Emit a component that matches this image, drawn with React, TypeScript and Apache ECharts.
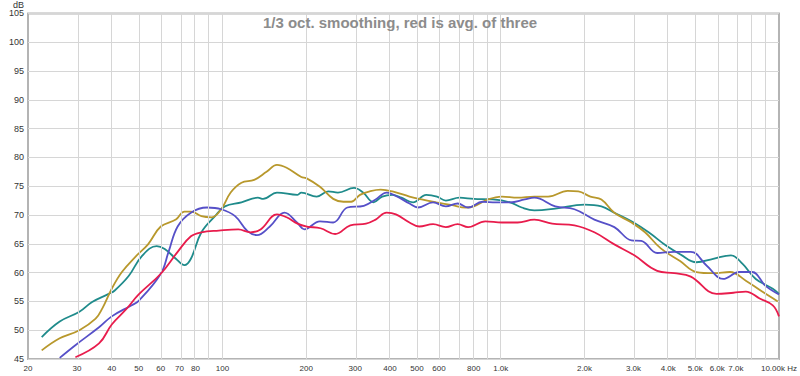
import React, { useEffect, useRef } from "react";
import * as echarts from "echarts";

// ---- data (frequency in Hz, level in dB) ----
const tealFreq = [22.4, 26, 30.6, 34, 39, 41, 46, 51.4, 58, 62, 68, 73, 77, 84, 94, 102, 117, 134, 140, 157, 186, 192, 218, 240, 260, 297, 320, 349, 375, 408, 440, 484, 540, 590, 635, 710, 800, 935, 1080, 1190, 1320, 1570, 2000, 2300, 2560, 2950, 3400, 3950, 4410, 5050, 5800, 6720, 7400, 8250, 9500, 10000];
const tealDb = [48.8, 51.5, 53.2, 54.9, 56.3, 56.9, 59.4, 62.9, 64.6, 64.1, 62.4, 61.3, 62.4, 67.0, 69.8, 71.5, 72.2, 73.0, 72.8, 73.9, 73.5, 73.9, 73.2, 74.1, 73.9, 74.7, 73.9, 72.2, 73.2, 73.5, 73.0, 72.2, 73.5, 73.2, 72.5, 73.0, 72.8, 72.7, 72.2, 71.3, 70.8, 71.1, 71.8, 71.5, 70.4, 68.9, 67.0, 64.6, 63.2, 61.8, 62.4, 63.0, 61.5, 58.9, 57.2, 56.3];

const goldFreq = [22.4, 26, 30.6, 35, 37, 40, 43.5, 49, 54, 60, 68, 73, 77, 84, 91.5, 99, 107, 117, 130, 144, 157, 170, 192, 200, 224, 250, 272, 290, 312, 338, 370, 408, 470, 520, 587, 670, 750, 800, 900, 1010, 1150, 1320, 1480, 1740, 1900, 2100, 2300, 2560, 2950, 3300, 3760, 4410, 5050, 5800, 6670, 7600, 8700, 9900];
const goldDb = [46.5, 48.6, 50.0, 52.0, 53.8, 57.2, 60.1, 62.9, 64.9, 68.0, 69.2, 70.6, 70.6, 69.8, 69.6, 71.0, 73.9, 75.6, 76.1, 77.5, 78.7, 78.2, 76.6, 76.4, 74.9, 72.8, 72.3, 72.3, 73.5, 74.1, 74.4, 74.1, 73.2, 72.7, 72.2, 71.7, 71.3, 71.5, 72.7, 73.2, 73.0, 73.2, 73.2, 74.2, 74.1, 73.2, 72.7, 70.4, 68.7, 67.0, 64.2, 62.0, 60.1, 59.9, 60.1, 58.6, 56.7, 55.0];

const blueFreq = [26, 29.6, 36, 40, 47, 50, 60, 64, 69, 77, 88, 99, 111, 123, 133, 148, 167, 186, 197, 224, 250, 281, 322, 355, 389, 420, 470, 504, 571, 635, 700, 763, 860, 960, 1080, 1220, 1320, 1570, 1840, 2170, 2560, 2950, 3200, 3650, 4200, 4820, 5500, 6300, 7200, 8000, 8950, 10000];
const blueDb = [45.2, 47.4, 50.5, 52.4, 54.3, 55.1, 59.8, 63.6, 68.0, 70.4, 71.3, 71.0, 69.8, 67.2, 66.5, 68.0, 70.4, 68.6, 67.5, 68.9, 68.7, 71.3, 71.6, 72.7, 73.9, 73.3, 72.0, 71.3, 72.2, 71.5, 72.0, 71.3, 72.3, 72.2, 72.2, 72.7, 73.0, 71.5, 71.0, 69.2, 67.9, 65.6, 65.5, 63.4, 63.6, 63.6, 61.2, 58.9, 60.1, 60.1, 57.7, 56.2];

const redFreq = [29.6, 36, 40, 45, 50, 60, 69, 77, 84, 97, 114, 126, 137, 157, 170, 186, 201, 225, 254, 288, 328, 355, 389, 420, 470, 509, 571, 635, 700, 763, 880, 1010, 1150, 1320, 1530, 1840, 2170, 2560, 3020, 3650, 4200, 4820, 5960, 6860, 7600, 8520, 9500, 10000];
const redDb = [45.3, 47.7, 51.0, 53.6, 56.2, 59.8, 63.6, 66.3, 67.0, 67.3, 67.5, 67.0, 67.5, 70.1, 69.6, 68.5, 68.0, 67.7, 66.7, 68.2, 68.5, 69.2, 70.4, 70.1, 68.7, 68.0, 68.4, 67.9, 68.4, 67.9, 68.9, 68.7, 68.7, 69.2, 68.5, 68.2, 67.0, 64.9, 63.0, 60.3, 59.9, 59.3, 56.3, 56.5, 56.7, 55.5, 54.3, 52.4];

const gridFreqs = [30, 40, 50, 60, 70, 80, 90, 100, 200, 300, 400, 500, 600, 700, 800, 900, 1000, 2000, 3000, 4000, 5000, 6000, 7000, 8000, 9000];
const tickFreqs = [20, 30, 40, 50, 60, 70, 80, 100, 200, 300, 400, 500, 600, 800, 1000, 2000, 3000, 4000, 5000, 6000, 7000, 10000];
const tickLabels = ["20", "30", "40", "50", "60", "70", "80", "100", "200", "300", "400", "500", "600", "800", "1.0k", "2.0k", "3.0k", "4.0k", "5.0k", "6.0k", "7.0k", "10.00k Hz"];

const titleText = "1/3 oct. smoothing, red is avg. of three";
const yMin = 45;
const yMax = 105;
const yStep = 5;
const fMin = 20;
const fMax = 10000;

const FONT = "'Liberation Sans', Arial, sans-serif";

const toPairs = (fs: number[], vs: number[]) => fs.map((f, i) => [Math.log10(f), vs[i]]);

export default function App() {
  const ref = useRef<HTMLDivElement>(null);
  useEffect(() => {
    document.body.style.margin = "0";
    if (!ref.current) return;
    const chart = echarts.init(ref.current, undefined, { renderer: "svg" });
    const lineSeries = (name: string, color: string, fs: number[], vs: number[], z: number) => ({
      name,
      type: "line",
      data: toPairs(fs, vs),
      smooth: 0.4,
      showSymbol: false,
      symbol: "none",
      z,
      lineStyle: { color, width: 1.8 },
    });
    chart.setOption({
      animation: false,
      backgroundColor: "#ffffff",
      title: {
        text: titleText,
        left: "center",
        top: 10,
        textStyle: { color: "#8c8c8c", fontSize: 15, fontWeight: "bold", fontFamily: FONT },
      },
      grid: {
        left: 28,
        right: 13,
        top: 11,
        bottom: 17,
        show: true,
        borderColor: "#b4b4b4",
        borderWidth: 2,
        containLabel: false,
      },
      xAxis: {
        type: "value",
        min: Math.log10(fMin),
        max: Math.log10(fMax),
        axisLine: { show: false },
        axisTick: { show: false },
        splitLine: { show: false },
        axisLabel: {
          customValues: tickFreqs.map((f) => Math.log10(f)),
          formatter: (v: number) => {
            const f = Math.pow(10, v);
            let best = 0;
            let bd = Infinity;
            tickFreqs.forEach((t, i) => {
              const d = Math.abs(Math.log10(t) - Math.log10(f));
              if (d < bd) {
                bd = d;
                best = i;
              }
            });
            return tickLabels[best];
          },
          fontSize: 8,
          color: "#333",
          fontFamily: FONT,
          margin: 5,
          showMinLabel: true,
          showMaxLabel: true,
          hideOverlap: false,
        },
      },
      yAxis: {
        type: "value",
        min: yMin,
        max: yMax,
        interval: yStep,
        name: "dB",
        nameLocation: "end",
        nameGap: 3,
        nameTextStyle: { fontSize: 9, color: "#333", fontFamily: FONT, align: "right", padding: [0, 4, 0, 0] },
        axisLine: { show: false },
        axisTick: { show: false },
        splitLine: { show: true, lineStyle: { color: "#d6d6d6", width: 1 } },
        axisLabel: { fontSize: 9, color: "#333", fontFamily: FONT, margin: 4 },
      },
      series: [
        {
          name: "grid",
          type: "line",
          data: [[Math.log10(fMin), yMin]],
          symbol: "none",
          lineStyle: { opacity: 0 },
          silent: true,
          z: 1,
          markLine: {
            silent: true,
            symbol: ["none", "none"],
            label: { show: false },
            lineStyle: { color: "#d6d6d6", width: 1, type: "solid" },
            data: gridFreqs.map((f) => ({ xAxis: Math.log10(f) })),
          },
        },
        lineSeries("teal", "#1f8b8b", tealFreq, tealDb, 2),
        lineSeries("gold", "#b8982c", goldFreq, goldDb, 3),
        lineSeries("blue", "#5650c8", blueFreq, blueDb, 4),
        lineSeries("red", "#e81c4c", redFreq, redDb, 5),
      ],
    });
    return () => chart.dispose();
  }, []);
  return <div ref={ref} style={{ width: 800, height: 376 }} />;
}
